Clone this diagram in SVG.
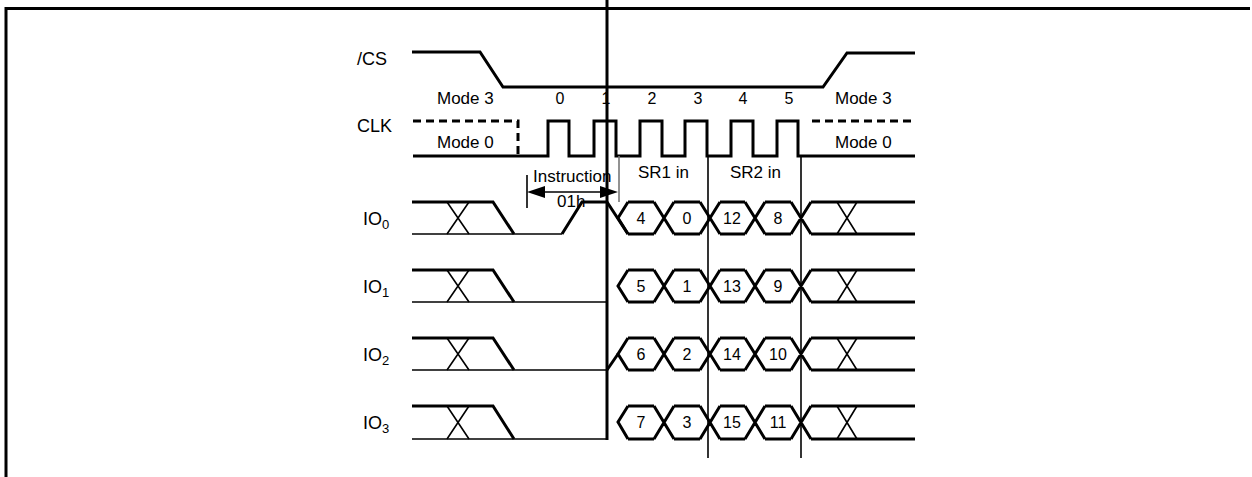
<svg xmlns="http://www.w3.org/2000/svg" width="1252" height="477" viewBox="0 0 1252 477">
<style>
text{font-family:"Liberation Sans",Arial,sans-serif;fill:#000}
.lbl{font-size:17px}
.sig{font-size:18px}
.num{font-size:16px;text-anchor:middle}
.hx{font-size:16px;text-anchor:middle}
.sub{font-size:13px}
.k{stroke:#000;stroke-width:3;fill:none;stroke-linejoin:miter}
.t{stroke:#000;stroke-width:1.6;fill:none}
.d{stroke:#000;stroke-width:3;fill:none;stroke-dasharray:8 5}
.g{stroke:#777;stroke-width:1.6;fill:none}
</style>
<rect width="1252" height="477" fill="#fff"/>
<g id="frame">
<path class="k" d="M6,477 V8.5 H1250"/>
</g>
<g id="cs">
<text class="sig" x="357" y="65">/CS</text>
<path class="k" d="M412,52 H480 L503,87 H823 L847,53 H915"/>
</g>
<g id="labels-top">
<text class="lbl" x="437" y="104">Mode 3</text>
<text class="num" x="560" y="104">0</text>
<text class="num" x="606" y="104">1</text>
<text class="num" x="652" y="104">2</text>
<text class="num" x="698" y="104">3</text>
<text class="num" x="743" y="104">4</text>
<text class="num" x="789" y="104">5</text>
<text class="lbl" x="835" y="104">Mode 3</text>
</g>
<g id="clk">
<text class="sig" x="357" y="132">CLK</text>
<path class="d" d="M413,121 H518 V156"/>
<path class="d" d="M812,121 H915"/>
<path class="k" d="M413,156 H548 V121 H569 V156 H594 V121 H616 V156 H640 V121 H662 V156 H685 V121 H707 V156 H731 V121 H753 V156 H777 V121 H798 V156 H915"/>
<text class="lbl" x="437" y="148">Mode 0</text>
<text class="lbl" x="835" y="148">Mode 0</text>
</g>
<g id="annotations">
<text class="lbl" x="533" y="182">Instruction</text>
<text class="lbl" x="557" y="207">01h</text>
<path class="t" d="M527,175 V208"/>
<path class="t" stroke-width="2" d="M540,192 H604"/>
<polygon points="527,192 545,186 545,198" fill="#000"/>
<polygon points="618,192 600,186 600,198" fill="#000"/>
<text class="lbl" x="638" y="178">SR1 in</text>
<text class="lbl" x="730" y="178">SR2 in</text>
<path class="g" d="M619,156 V202"/>
</g>
<g id="io0">
<text class="sig" x="363" y="225">IO<tspan class="sub" dy="4">0</tspan></text>
<path class="k" d="M412,202 H493 L514,234"/>
<path class="t" d="M412,234 H562"/>
<path class="t" d="M447,202 L469,234 M447,234 L469,202"/>
<path class="k" d="M562,234 L582,202 H607 L628,234"/>
<path class="k" d="M628,202 L618,218 L628,234 M628,202 H654 M628,234 H654 M654,202 L674,234 M654,234 L674,202 M674,202 H700 M674,234 H700 M700,202 L720,234 M700,234 L720,202 M720,202 H745 M720,234 H745 M745,202 L765,234 M745,234 L765,202 M765,202 H791 M765,234 H791 M791,202 L811,234 M791,234 L811,202 M811,202 H915 M811,234 H915"/>
<path class="t" d="M837,202 L857,234 M837,234 L857,202"/>
<text class="hx" x="641" y="224">4</text>
<text class="hx" x="687" y="224">0</text>
<text class="hx" x="732" y="224">12</text>
<text class="hx" x="778" y="224">8</text>
</g>
<g id="io1">
<text class="sig" x="363" y="293">IO<tspan class="sub" dy="4">1</tspan></text>
<path class="k" d="M412,270 H493 L514,302"/>
<path class="t" d="M412,302 H607"/>
<path class="t" d="M447,270 L469,302 M447,302 L469,270"/>
<path class="k" d="M628,270 L618,286 L628,302 M628,270 H654 M628,302 H654 M654,270 L674,302 M654,302 L674,270 M674,270 H700 M674,302 H700 M700,270 L720,302 M700,302 L720,270 M720,270 H745 M720,302 H745 M745,270 L765,302 M745,302 L765,270 M765,270 H791 M765,302 H791 M791,270 L811,302 M791,302 L811,270 M811,270 H915 M811,302 H915"/>
<path class="t" d="M837,270 L857,302 M837,302 L857,270"/>
<text class="hx" x="641" y="292">5</text>
<text class="hx" x="687" y="292">1</text>
<text class="hx" x="732" y="292">13</text>
<text class="hx" x="778" y="292">9</text>
</g>
<g id="io2">
<text class="sig" x="363" y="361">IO<tspan class="sub" dy="4">2</tspan></text>
<path class="k" d="M412,338 H493 L514,370"/>
<path class="t" d="M412,370 H607"/>
<path class="t" d="M447,338 L469,370 M447,370 L469,338"/>
<path class="k" d="M607,370 L618,354"/>
<path class="k" d="M628,338 L618,354 L628,370 M628,338 H654 M628,370 H654 M654,338 L674,370 M654,370 L674,338 M674,338 H700 M674,370 H700 M700,338 L720,370 M700,370 L720,338 M720,338 H745 M720,370 H745 M745,338 L765,370 M745,370 L765,338 M765,338 H791 M765,370 H791 M791,338 L811,370 M791,370 L811,338 M811,338 H915 M811,370 H915"/>
<path class="t" d="M837,338 L857,370 M837,370 L857,338"/>
<text class="hx" x="641" y="360">6</text>
<text class="hx" x="687" y="360">2</text>
<text class="hx" x="732" y="360">14</text>
<text class="hx" x="778" y="360">10</text>
</g>
<g id="io3">
<text class="sig" x="363" y="429">IO<tspan class="sub" dy="4">3</tspan></text>
<path class="k" d="M412,406 H493 L514,439"/>
<path class="t" d="M412,439 H607"/>
<path class="t" d="M447,406 L469,439 M447,439 L469,406"/>
<path class="k" d="M628,406 L618,422 L628,439 M628,406 H654 M628,439 H654 M654,406 L674,439 M654,439 L674,406 M674,406 H700 M674,439 H700 M700,406 L720,439 M700,439 L720,406 M720,406 H745 M720,439 H745 M745,406 L765,439 M745,439 L765,406 M765,406 H791 M765,439 H791 M791,406 L811,439 M791,439 L811,406 M811,406 H915 M811,439 H915"/>
<path class="t" d="M837,406 L857,439 M837,439 L857,406"/>
<text class="hx" x="641" y="428">7</text>
<text class="hx" x="687" y="428">3</text>
<text class="hx" x="732" y="428">15</text>
<text class="hx" x="778" y="428">11</text>
</g>
<g id="connectors">
<path class="k" d="M607,0 V440"/>
<path class="t" stroke-width="2" d="M708,156 V458"/>
<path class="t" stroke-width="2" d="M801,156 V458"/>
</g>
</svg>
